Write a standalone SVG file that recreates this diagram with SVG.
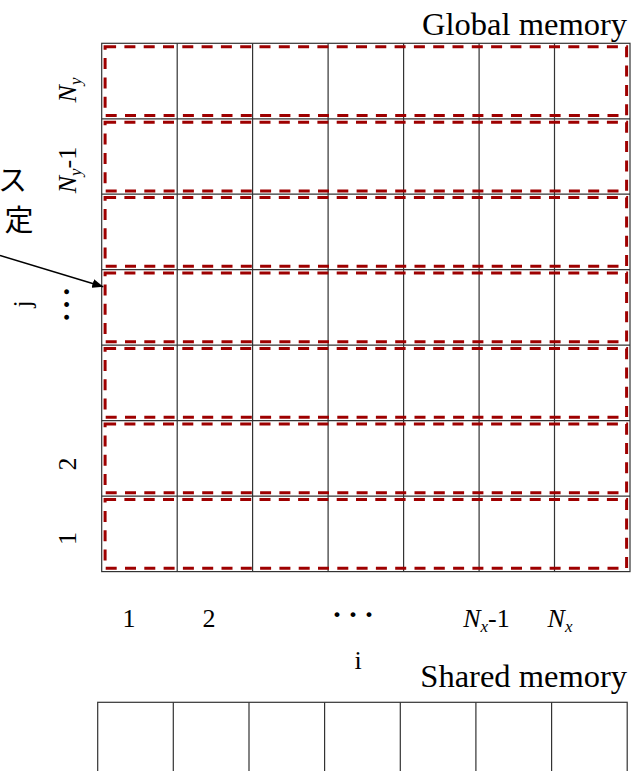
<svg xmlns="http://www.w3.org/2000/svg" width="633" height="771" viewBox="0 0 633 771">
  <style>
    .cell { fill: #ffffff; stroke: #333333; stroke-width: 1.2; }
    .block { fill: none; stroke: #9e0000; stroke-width: 3; stroke-dasharray: 11 8.3; }
    .serif { font-family: "Liberation Serif", "Times New Roman", serif; fill: #000000; }
    .title { font-size: 32.5px; }
    .lbl { font-size: 26px; }
    .it { font-style: italic; }
    .sub { font-style: italic; font-size: 17px; }
    .dots { font-weight: bold; font-size: 30px; }
    .jp { font-family: "Noto Sans CJK JP", "Noto Sans", sans-serif; font-size: 29px; fill: #000000; }
    .link { stroke: #000000; stroke-width: 1.5; fill: none; }
  </style>
  <defs>
    <marker id="arrowhead" markerUnits="userSpaceOnUse" markerWidth="11" markerHeight="9" refX="11" refY="4.5" orient="auto">
      <path d="M0,0 L11,4.5 L0,9 z" fill="#000000"/>
    </marker>
  </defs>

  <rect width="633" height="771" fill="#ffffff"/>

  <!-- Global memory: 7 x 7 grid -->
  <g id="global-memory">
    <text class="serif title" x="627" y="34.5" text-anchor="end">Global memory</text>
    <rect class="cell" x="101.7" y="43.3" width="528.3" height="528.3"/>
    <path class="cell" fill="none" d="M177.2,43.3 V571.6 M252.6,43.3 V571.6 M328.1,43.3 V571.6 M403.6,43.3 V571.6 M479.1,43.3 V571.6 M554.5,43.3 V571.6
             M101.7,118.8 H630 M101.7,194.2 H630 M101.7,269.7 H630 M101.7,345.2 H630 M101.7,420.7 H630 M101.7,496.1 H630"/>
  </g>

  <!-- One dashed block per grid row -->
  <g id="row-blocks">
    <rect id="row-7" class="block" x="105.1" y="46.7" width="521.5" height="68.7"/>
    <rect id="row-6" class="block" x="105.1" y="122.2" width="521.5" height="68.7"/>
    <rect id="row-5" class="block" x="105.1" y="197.6" width="521.5" height="68.7"/>
    <rect id="row-4" class="block" x="105.1" y="273.1" width="521.5" height="68.7"/>
    <rect id="row-3" class="block" x="105.1" y="348.6" width="521.5" height="68.7"/>
    <rect id="row-2" class="block" x="105.1" y="424.1" width="521.5" height="68.7"/>
    <rect id="row-1" class="block" x="105.1" y="499.5" width="521.5" height="68.7"/>
  </g>

  <!-- Row index labels (j), written bottom to top -->
  <g id="row-labels" class="serif lbl">
    <text transform="translate(76,90) rotate(-90)" text-anchor="middle"><tspan class="it">N</tspan><tspan class="sub" dy="5">y</tspan></text>
    <text transform="translate(76,170) rotate(-90)" text-anchor="middle"><tspan class="it">N</tspan><tspan class="sub" dy="5">y</tspan><tspan dy="-5">-1</tspan></text>
    <text class="dots" transform="translate(69,321) rotate(-90)" letter-spacing="5.3">...</text>
    <text transform="translate(76,464) rotate(-90)" text-anchor="middle">2</text>
    <text transform="translate(76,538.5) rotate(-90)" text-anchor="middle">1</text>
    <text transform="translate(31,304) rotate(-90)" text-anchor="middle">j</text>
  </g>

  <!-- Column index labels (i) -->
  <g id="column-labels" class="serif lbl">
    <text x="129" y="626.5" text-anchor="middle">1</text>
    <text x="209" y="626.5" text-anchor="middle">2</text>
    <text class="dots" x="333.3" y="617" letter-spacing="8.5">...</text>
    <text x="486.5" y="626.5" text-anchor="middle"><tspan class="it">N</tspan><tspan class="sub" dy="5">x</tspan><tspan dy="-5">-1</tspan></text>
    <text x="560" y="626.5" text-anchor="middle"><tspan class="it">N</tspan><tspan class="sub" dy="5">x</tspan></text>
    <text x="358" y="668.5" text-anchor="middle">i</text>
  </g>

  <!-- Shared memory: one row of 7 cells -->
  <g id="shared-memory">
    <text class="serif title" x="627" y="686.7" text-anchor="end">Shared memory</text>
    <rect class="cell" x="97.7" y="702.3" width="529.5" height="90"/>
    <path class="cell" fill="none" d="M173.3,702.3 V792 M249,702.3 V792 M324.6,702.3 V792 M400.3,702.3 V792 M475.9,702.3 V792 M551.6,702.3 V792"/>
  </g>

  <!-- Annotation text, running off the left edge -->
  <g id="annotation">
    <text class="jp" x="-2" y="191">ス</text>
    <text class="jp" x="4.5" y="231">定</text>
  </g>

  <!-- Connectors -->
  <g id="connectors">
    <line class="link" x1="0" y1="255.5" x2="103.3" y2="286.7" marker-end="url(#arrowhead)"/>
  </g>
</svg>
